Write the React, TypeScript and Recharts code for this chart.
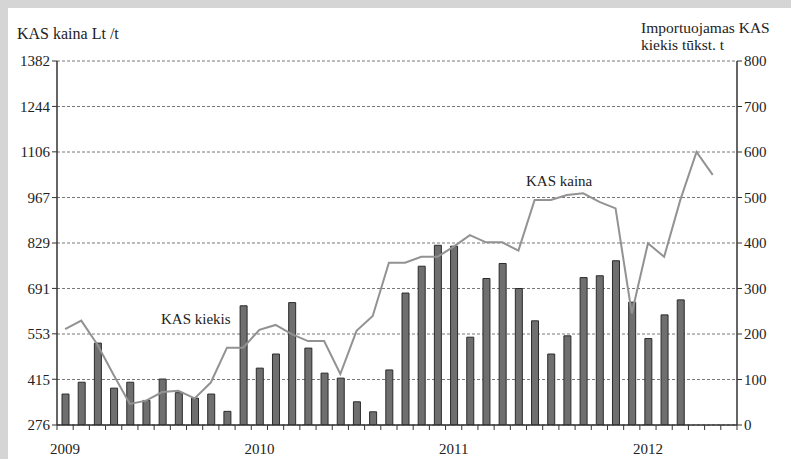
import React from "react";
import { ComposedChart, Bar, Line, XAxis, YAxis, CartesianGrid } from "recharts";

const years = ["2009", "2010", "2011", "2012"];
const months: string[] = [];
for (const y of years) {
  for (let m = 1; m <= 12; m++) {
    if (y === "2012" && m > 6) break;
    months.push(`${y}-${String(m).padStart(2, "0")}`);
  }
}

// Importuojamas KAS kiekis, tūkst. t (right axis)
const qty = [
  68, 94, 180, 81, 94, 54, 101, 71, 59, 68, 30, 262,
  125, 156, 269, 169, 114, 103, 51, 29, 121, 290, 349, 395,
  393, 193, 322, 355, 300, 229, 156, 196, 324, 328, 361, 270,
  190, 242, 275,
];

// KAS kaina, Lt/t (left axis)
const price = [
  567, 593, 520, 428, 340, 350, 376, 380, 357, 405, 511, 511,
  565, 580, 552, 531, 531, 431, 562, 607, 769, 769, 787, 787,
  818, 853, 831, 831, 806, 960, 960, 975, 980, 954, 934, 615,
  828, 787, 960, 1106, 1036,
];

const leftTicks = [276, 415, 553, 691, 829, 967, 1106, 1244, 1382];
const rightTicks = [0, 100, 200, 300, 400, 500, 600, 700, 800];
const yearTickPos = [0.5, 12.5, 24.5, 36.5];

const data = months.map((m, i) => ({
  x: i + 0.5,
  month: m,
  qty: i < qty.length ? qty[i] : null,
  price: i < price.length ? price[i] : null,
}));

const slotTicks = months.map((_, i) => i).concat([months.length]);

const FONT = "Liberation Serif, Times New Roman, serif";
const tickStyle = { fontFamily: FONT, fontSize: 15, fill: "#222", style: { fontFamily: FONT } };

export default function App() {
  return (
    <div
      style={{
        position: "absolute",
        left: 0,
        top: 0,
        width: 791,
        height: 459,
        background: "#fff",
        overflow: "hidden",
        fontFamily: FONT,
      }}
    >
      <div style={{ position: "absolute", left: 0, top: 0, width: 791, height: 8, background: "#d5d5d5" }} />
      <div style={{ position: "absolute", left: 0, top: 0, width: 8, height: 459, background: "#d5d5d5" }} />
      <div style={{ position: "absolute", left: 0, top: 0 }}>
        <ComposedChart
          width={791}
          height={459}
          data={data}
          margin={{ top: 61, right: 0, bottom: 0, left: 0 }}
          style={{ fontFamily: FONT }}
        >
          <CartesianGrid
            yAxisId="qty"
            xAxisId="m"
            vertical={false}
            horizontal={true}
            stroke="#555"
            strokeDasharray="3 2"
            strokeWidth={0.8}
          />
          <XAxis
            xAxisId="m"
            type="number"
            dataKey="x"
            domain={[0, months.length]}
            ticks={slotTicks}
            tickFormatter={() => ""}
            height={8}
            tickSize={5}
            stroke="#333"
            axisLine={{ stroke: "#333", strokeWidth: 1.5 }}
            tickLine={{ stroke: "#333" }}
            interval={0}
          />
          <XAxis
            xAxisId="yr"
            type="number"
            dataKey="x"
            domain={[0, months.length]}
            ticks={yearTickPos}
            tickFormatter={(v: number) => years[Math.round((v - 0.5) / 12)] ?? ""}
            height={26}
            axisLine={false}
            tickLine={false}
            tickSize={6}
            tickMargin={4}
            tick={tickStyle}
            interval={0}
          />
          <YAxis
            yAxisId="price"
            orientation="left"
            type="number"
            domain={[276, 1382]}
            ticks={leftTicks}
            width={57}
            tickSize={5}
            tickMargin={2}
            tick={tickStyle}
            axisLine={{ stroke: "#333", strokeWidth: 1.5 }}
            tickLine={{ stroke: "#333" }}
            interval={0}
            allowDataOverflow
          />
          <YAxis
            yAxisId="qty"
            orientation="right"
            type="number"
            domain={[0, 800]}
            ticks={rightTicks}
            width={54}
            tickSize={5}
            tickMargin={2}
            tick={tickStyle}
            axisLine={{ stroke: "#333", strokeWidth: 1.5 }}
            tickLine={{ stroke: "#333" }}
            interval={0}
            allowDataOverflow
          />
          <Bar
            xAxisId="m"
            yAxisId="qty"
            dataKey="qty"
            barSize={7}
            fill="#6f6f6f"
            stroke="#2b2b2b"
            strokeWidth={1}
            isAnimationActive={false}
          />
          <Line
            xAxisId="m"
            yAxisId="price"
            dataKey="price"
            type="linear"
            stroke="#929292"
            strokeWidth={2}
            dot={false}
            activeDot={false}
            connectNulls={false}
            isAnimationActive={false}
          />
        </ComposedChart>
      </div>
      <svg
        width={791}
        height={459}
        style={{ position: "absolute", left: 0, top: 0, pointerEvents: "none", fontFamily: FONT }}
      >
        <g fill="#222" style={{ fontFamily: FONT }}>
          <text x={17} y={39} fontSize={16}>KAS kaina Lt /t</text>
          <text x={641} y={33} fontSize={15.5}>Importuojamas KAS</text>
          <text x={641} y={50} fontSize={15.5}>kiekis tūkst. t</text>
          <text x={161} y={324} fontSize={15}>KAS kiekis</text>
          <text x={526} y={186} fontSize={15}>KAS kaina</text>
        </g>
      </svg>
    </div>
  );
}
